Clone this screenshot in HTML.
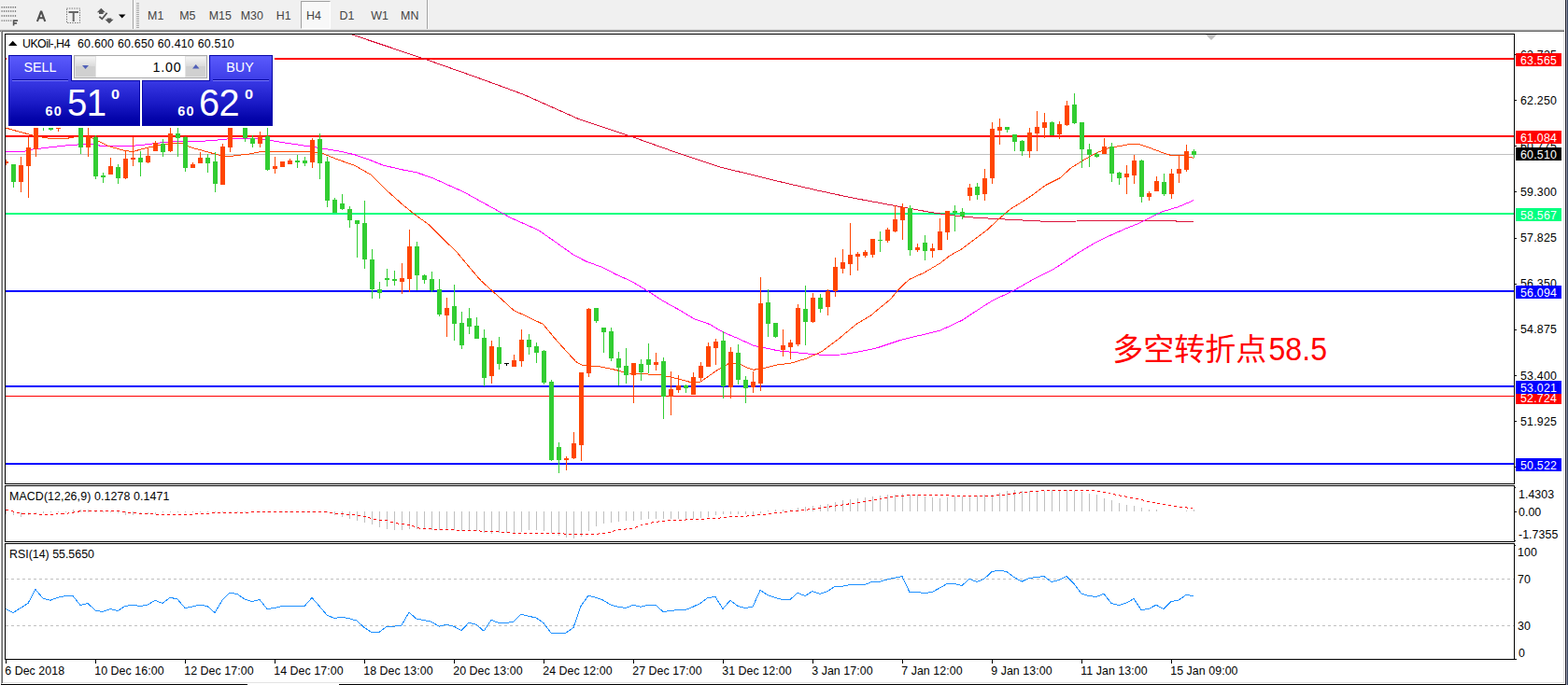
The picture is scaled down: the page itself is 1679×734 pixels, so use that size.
<!DOCTYPE html><html><head><meta charset="utf-8"><title>UKOil H4</title><style>
html,body{margin:0;padding:0;background:#fff;}
body{width:1679px;height:734px;overflow:hidden;position:relative;font-family:"Liberation Sans",sans-serif;}
.abs{position:absolute;}
.t{position:absolute;font-size:12.4px;line-height:14px;color:#000;white-space:pre;}
.tb{position:absolute;font-size:12.4px;line-height:14px;color:#444;white-space:pre;}
.lb{position:absolute;left:1623px;width:49px;height:14px;color:#fff;font-size:12.4px;line-height:14px;white-space:pre;letter-spacing:0.2px;}
.lb span{position:absolute;left:5px;top:0.5px;}
.ax{position:absolute;left:1628px;font-size:12.4px;line-height:14px;color:#000;white-space:pre;letter-spacing:0.2px;}
</style></head><body>
<div class="abs" style="left:0;top:0;width:1675px;height:31px;background:#f0f0f0"></div>
<div class="abs" style="left:0;top:31px;width:1675px;height:1px;background:#e3e3e3"></div>
<div class="abs" style="left:0;top:32px;width:1675px;height:1px;background:#a0a0a0"></div>
<div class="abs" style="left:0;top:33px;width:1675px;height:1px;background:#696969"></div>
<div class="abs" style="left:1px;top:33px;width:1px;height:700px;background:#a0a0a0"></div>
<div class="abs" style="left:2px;top:33px;width:1px;height:699px;background:#696969"></div>
<div class="abs" style="left:1674px;top:34px;width:1px;height:698px;background:#e3e3e3"></div>
<div class="abs" style="left:1675px;top:0;width:1px;height:734px;background:#fff"></div>
<div class="abs" style="left:1676px;top:0;width:1px;height:734px;background:#20202c"></div>
<div class="abs" style="left:1677px;top:0;width:1px;height:734px;background:#9a9aaa"></div>
<div class="abs" style="left:1678px;top:0;width:1px;height:734px;background:#3a4a64"></div>
<div class="abs" style="left:3px;top:731px;width:1672px;height:1px;background:#e3e3e3"></div>
<div class="abs" style="left:1px;top:733px;width:264px;height:1px;background:#000"></div>
<div class="abs" style="left:363px;top:733px;width:1313px;height:1px;background:#000"></div>
<div class="abs" style="left:142px;top:0;width:1px;height:31px;background:#a0a0a0"></div><div class="abs" style="left:143px;top:0;width:1px;height:31px;background:#fff"></div>
<div class="abs" style="left:457px;top:0;width:1px;height:31px;background:#a0a0a0"></div><div class="abs" style="left:458px;top:0;width:1px;height:31px;background:#fff"></div>
<div class="abs" style="left:146px;top:3px;width:3px;height:27px;background:repeating-linear-gradient(to bottom,#a8a8a8 0,#a8a8a8 1px,#f0f0f0 1px,#f0f0f0 2px)"></div>
<div class="abs" style="left:322px;top:1px;width:30px;height:28px;background:#f8f8f8;border-left:1px solid #a0a0a0;border-top:1px solid #a0a0a0;border-right:1px solid #fff;border-bottom:1px solid #fff;box-sizing:content-box"></div>
<div class="tb" style="left:158.1px;top:10px">M1</div>
<div class="tb" style="left:192.2px;top:10px">M5</div>
<div class="tb" style="left:223.8px;top:10px">M15</div>
<div class="tb" style="left:257.7px;top:10px">M30</div>
<div class="tb" style="left:295.8px;top:10px">H1</div>
<div class="tb" style="left:328.1px;top:10px">H4</div>
<div class="tb" style="left:363.6px;top:10px">D1</div>
<div class="tb" style="left:397.2px;top:10px">W1</div>
<div class="tb" style="left:429.1px;top:10px">MN</div>
<svg class="abs" style="left:0;top:0" width="142" height="31" viewBox="0 0 142 31">
<g stroke="#666" stroke-width="1.4" stroke-dasharray="1.2,1.2" fill="none">
<path d="M1.5 7.800H18M1.5 12H18M1.5 17H18M1.5 22.100H13"/></g>
<path d="M14.6 27.6V22.1H19.1M14.6 24.900H18.1" stroke="#555" stroke-width="1.6" fill="none"/>
<path d="M39.9 23L44.1 11.9L48.300 23M41.5 19.3H46.7" stroke="#505050" stroke-width="2.1" stroke-linejoin="bevel" fill="none"/>
<rect x="71.5" y="9" width="14" height="15.5" fill="none" stroke="#666" stroke-width="1" stroke-dasharray="1.2,1.4"/>
<path d="M73.5 13H84M78.7 13V23" stroke="#666" stroke-width="2" fill="none"/>
<path d="M103.800 13.200L108.3 8.800L112.800 13.200H110.6V14.900H106V13.200Z M112.400 20.800H114.7V19.400H119.3V20.800H121.600L117 25.200Z" fill="#555"/>
<path d="M106.3 17.800L109.3 20.300L114.600 13.800" stroke="#555" stroke-width="1.8" fill="none"/>
<path d="M127 15.5H134.5L130.7 19.5Z" fill="#000"/>
</svg>
<svg class="abs" style="left:0;top:0" width="1679" height="734" viewBox="0 0 1679 734"><g shape-rendering="crispEdges">
<rect x="6" y="165" width="1615" height="1" fill="#C0C0C0"/>
<rect x="6" y="62" width="1615" height="2" fill="#FF0000"/>
<rect x="6" y="145" width="1615" height="2" fill="#FF0000"/>
<rect x="6" y="228" width="1615" height="2" fill="#00FF7F"/>
<rect x="6" y="311" width="1615" height="2" fill="#0000FF"/>
<rect x="6" y="413" width="1615" height="2" fill="#0000FF"/>
<rect x="6" y="424" width="1615" height="1" fill="#FF0000"/>
<rect x="6" y="496" width="1615" height="2" fill="#0000FF"/>
</g>
<polyline points="376.7,37 453.3,62.7 510,82.7 560,101 620,127.7 673.3,145.3 726.7,164.3 770,178.7 826.7,192.7 860,200.5 876.7,204.3 910,211.5 960,220.8 996.7,227.5 1026.7,231.7 1045,233.3 1070,234.7 1091.7,235.8 1123.3,237.5 1153.3,237 1186.7,236.2 1258.3,236.2 1260,237.5 1278,237.5" fill="none" stroke="#DC143C" stroke-width="1" stroke-linejoin="round" shape-rendering="crispEdges"/>
<polyline points="6,163 25,162.5 33,160.3 50,158.3 66.7,156.3 83,155 100,154.7 108,156.3 125,156.7 141.7,156.3 158,154.7 175,152.5 191.7,151.3 216.7,151.3 233,150 250,148.3 265,148.3 280,148.8 296.7,151.7 330,156.7 346.7,159.2 363.3,162 380,165.8 396.7,171.7 410,177 430,181.7 446.7,185 463.3,190.8 480,198.3 496.7,205.8 513.3,215 530,224.2 546.7,233.3 560,239.2 576.7,246.7 593.3,258.3 613.3,272.5 626.7,279.7 643.3,285.8 660,294.2 676.7,301.7 693.3,311.7 710,322.5 726.7,331.7 743.3,341.7 760,347.5 766.7,351.5 775,356.3 791.7,363.3 806.7,370.3 820,373 833.3,375.8 850,377.5 866.7,379.2 883.3,380.5 900,380 916.7,377.5 933.3,374.2 940,372.5 965,364.2 1006.7,354.2 1030,343.3 1056.7,325.8 1064.2,321.3 1083.3,312.5 1106.7,299.2 1128.3,288.3 1140,280.8 1153.3,271.7 1170,261.7 1186.7,253.3 1203.3,245.8 1220,239.2 1236.7,230.8 1245,226.7 1261.7,221.7 1278,214.7" fill="none" stroke="#FF00FF" stroke-width="1" stroke-linejoin="round" shape-rendering="crispEdges"/>
<polyline points="6,137 20,141 38,145.8 53,148.3 72,148.3 84,146 92,146.5 100,148.3 116.7,156.7 133,161.3 141.7,162.5 158,158.3 175,154.7 183,153.7 195,153.7 203,157.5 216.7,161.3 233,165.8 240,167.5 250,167 266.7,165 280,162.5 331.7,162.5 346.7,165 360,170.3 380,177.5 396.7,187 413.3,203.3 430,218.3 443.3,229.2 458.3,240 473.3,255 488.3,269.2 505,289.2 515,300.8 526.7,311.3 540,323.3 550,332.5 563.3,338.7 581.7,347.5 593.3,361.7 606.7,376.7 616.7,387.5 623.3,391.3 640,392.5 656.7,395.8 673.3,400 690,400.8 706.7,401.7 716.7,403.7 738.3,409.2 750,409.2 766.7,397.5 780,389.7 790,389.2 798.3,393.3 806.7,396.3 816.7,394.7 833.3,390.8 846.7,389.2 863.3,384.2 880,376.7 896.7,364.2 916.7,347.5 933.3,337.5 940,331.7 953.3,320.8 961.7,310.8 973.3,299.5 990,292 1006.7,282 1016.7,274.2 1030,266.7 1043.3,256.7 1056.7,246.7 1068.3,235.8 1081.7,224.2 1093.3,217 1101.7,211.7 1120,198.3 1135,190.8 1146.7,180 1160,171.7 1173.3,164.2 1186.7,158.7 1200,156.3 1211.7,154.2 1220,154.7 1230,158 1243.3,163 1253.3,166.3 1266.7,166.3 1273.3,168.3 1278,169.2" fill="none" stroke="#FF4500" stroke-width="1" stroke-linejoin="round" shape-rendering="crispEdges"/>
<g shape-rendering="crispEdges">
<rect x="6" y="173" width="3" height="2" fill="#FF4500"/>
<rect x="6" y="171" width="1" height="6" fill="#FF4500"/>
<rect x="14" y="176" width="1" height="25" fill="#32CD32"/>
<rect x="12" y="176" width="5" height="19" fill="#32CD32"/>
<rect x="22" y="168" width="1" height="38" fill="#FF4500"/>
<rect x="20" y="177" width="5" height="18" fill="#FF4500"/>
<rect x="30" y="147" width="1" height="65" fill="#FF4500"/>
<rect x="28" y="158" width="5" height="20" fill="#FF4500"/>
<rect x="38" y="125" width="1" height="43" fill="#FF4500"/>
<rect x="36" y="125" width="5" height="35" fill="#FF4500"/>
<rect x="46" y="125" width="1" height="15" fill="#32CD32"/>
<rect x="44" y="125" width="5" height="9" fill="#32CD32"/>
<rect x="54" y="125" width="1" height="15" fill="#32CD32"/>
<rect x="52" y="125" width="5" height="14" fill="#32CD32"/>
<rect x="62" y="125" width="1" height="16" fill="#FF4500"/>
<rect x="60" y="125" width="5" height="13" fill="#FF4500"/>
<rect x="86" y="125" width="1" height="40" fill="#32CD32"/>
<rect x="84" y="125" width="5" height="33" fill="#32CD32"/>
<rect x="94" y="125" width="1" height="43" fill="#FF4500"/>
<rect x="92" y="146" width="5" height="12" fill="#FF4500"/>
<rect x="102" y="145" width="1" height="47" fill="#32CD32"/>
<rect x="100" y="147" width="5" height="42" fill="#32CD32"/>
<rect x="110" y="185" width="1" height="11" fill="#32CD32"/>
<rect x="108" y="188" width="5" height="2" fill="#32CD32"/>
<rect x="118" y="169" width="1" height="18" fill="#FF4500"/>
<rect x="116" y="178" width="5" height="9" fill="#FF4500"/>
<rect x="126" y="176" width="1" height="21" fill="#32CD32"/>
<rect x="124" y="179" width="5" height="12" fill="#32CD32"/>
<rect x="134" y="161" width="1" height="31" fill="#FF4500"/>
<rect x="132" y="170" width="5" height="21" fill="#FF4500"/>
<rect x="142" y="147" width="1" height="31" fill="#FF4500"/>
<rect x="140" y="169" width="5" height="2" fill="#FF4500"/>
<rect x="150" y="162" width="1" height="27" fill="#32CD32"/>
<rect x="148" y="169" width="5" height="5" fill="#32CD32"/>
<rect x="158" y="158" width="1" height="17" fill="#FF4500"/>
<rect x="156" y="167" width="5" height="7" fill="#FF4500"/>
<rect x="166" y="151" width="1" height="11" fill="#FF4500"/>
<rect x="164" y="153" width="5" height="9" fill="#FF4500"/>
<rect x="174" y="149" width="1" height="19" fill="#32CD32"/>
<rect x="172" y="154" width="5" height="9" fill="#32CD32"/>
<rect x="182" y="125" width="1" height="38" fill="#FF4500"/>
<rect x="180" y="143" width="5" height="19" fill="#FF4500"/>
<rect x="190" y="125" width="1" height="43" fill="#32CD32"/>
<rect x="188" y="143" width="5" height="5" fill="#32CD32"/>
<rect x="198" y="146" width="1" height="38" fill="#32CD32"/>
<rect x="196" y="147" width="5" height="33" fill="#32CD32"/>
<rect x="206" y="174" width="1" height="6" fill="#FF4500"/>
<rect x="204" y="176" width="5" height="4" fill="#FF4500"/>
<rect x="214" y="163" width="1" height="12" fill="#FF4500"/>
<rect x="212" y="169" width="5" height="6" fill="#FF4500"/>
<rect x="222" y="165" width="1" height="20" fill="#32CD32"/>
<rect x="220" y="169" width="5" height="6" fill="#32CD32"/>
<rect x="230" y="163" width="1" height="43" fill="#32CD32"/>
<rect x="228" y="173" width="5" height="24" fill="#32CD32"/>
<rect x="238" y="154" width="1" height="44" fill="#FF4500"/>
<rect x="236" y="157" width="5" height="41" fill="#FF4500"/>
<rect x="246" y="125" width="1" height="38" fill="#FF4500"/>
<rect x="244" y="125" width="5" height="33" fill="#FF4500"/>
<rect x="262" y="125" width="1" height="27" fill="#32CD32"/>
<rect x="260" y="125" width="5" height="23" fill="#32CD32"/>
<rect x="270" y="145" width="1" height="13" fill="#32CD32"/>
<rect x="268" y="148" width="5" height="6" fill="#32CD32"/>
<rect x="278" y="141" width="1" height="17" fill="#FF4500"/>
<rect x="276" y="146" width="5" height="8" fill="#FF4500"/>
<rect x="286" y="125" width="1" height="58" fill="#32CD32"/>
<rect x="284" y="146" width="5" height="36" fill="#32CD32"/>
<rect x="294" y="168" width="1" height="18" fill="#FF4500"/>
<rect x="292" y="178" width="5" height="3" fill="#FF4500"/>
<rect x="302" y="173" width="1" height="6" fill="#FF4500"/>
<rect x="300" y="173" width="5" height="6" fill="#FF4500"/>
<rect x="310" y="170" width="1" height="6" fill="#FF4500"/>
<rect x="308" y="172" width="5" height="4" fill="#FF4500"/>
<rect x="318" y="166" width="1" height="14" fill="#32CD32"/>
<rect x="316" y="172" width="5" height="2" fill="#32CD32"/>
<rect x="326" y="168" width="1" height="10" fill="#32CD32"/>
<rect x="324" y="172" width="5" height="3" fill="#32CD32"/>
<rect x="334" y="148" width="1" height="32" fill="#FF4500"/>
<rect x="332" y="150" width="5" height="24" fill="#FF4500"/>
<rect x="342" y="143" width="1" height="49" fill="#32CD32"/>
<rect x="340" y="149" width="5" height="26" fill="#32CD32"/>
<rect x="350" y="168" width="1" height="54" fill="#32CD32"/>
<rect x="348" y="173" width="5" height="42" fill="#32CD32"/>
<rect x="358" y="212" width="1" height="16" fill="#32CD32"/>
<rect x="356" y="214" width="5" height="14" fill="#32CD32"/>
<rect x="366" y="208" width="1" height="17" fill="#32CD32"/>
<rect x="364" y="218" width="5" height="6" fill="#32CD32"/>
<rect x="374" y="221" width="1" height="23" fill="#32CD32"/>
<rect x="372" y="224" width="5" height="12" fill="#32CD32"/>
<rect x="382" y="236" width="1" height="40" fill="#32CD32"/>
<rect x="380" y="236" width="5" height="4" fill="#32CD32"/>
<rect x="390" y="215" width="1" height="73" fill="#32CD32"/>
<rect x="388" y="239" width="5" height="39" fill="#32CD32"/>
<rect x="398" y="267" width="1" height="53" fill="#32CD32"/>
<rect x="396" y="278" width="5" height="32" fill="#32CD32"/>
<rect x="406" y="302" width="1" height="18" fill="#32CD32"/>
<rect x="404" y="310" width="5" height="4" fill="#32CD32"/>
<rect x="414" y="288" width="1" height="19" fill="#32CD32"/>
<rect x="412" y="298" width="5" height="2" fill="#32CD32"/>
<rect x="422" y="290" width="1" height="16" fill="#32CD32"/>
<rect x="420" y="299" width="5" height="2" fill="#32CD32"/>
<rect x="430" y="282" width="1" height="33" fill="#FF4500"/>
<rect x="428" y="298" width="5" height="4" fill="#FF4500"/>
<rect x="438" y="246" width="1" height="67" fill="#FF4500"/>
<rect x="436" y="264" width="5" height="35" fill="#FF4500"/>
<rect x="446" y="259" width="1" height="52" fill="#32CD32"/>
<rect x="444" y="264" width="5" height="31" fill="#32CD32"/>
<rect x="454" y="294" width="1" height="10" fill="#32CD32"/>
<rect x="452" y="295" width="5" height="5" fill="#32CD32"/>
<rect x="462" y="291" width="1" height="22" fill="#32CD32"/>
<rect x="460" y="299" width="5" height="12" fill="#32CD32"/>
<rect x="470" y="299" width="1" height="40" fill="#32CD32"/>
<rect x="468" y="310" width="5" height="27" fill="#32CD32"/>
<rect x="478" y="319" width="1" height="42" fill="#FF4500"/>
<rect x="476" y="330" width="5" height="8" fill="#FF4500"/>
<rect x="486" y="305" width="1" height="60" fill="#32CD32"/>
<rect x="484" y="328" width="5" height="19" fill="#32CD32"/>
<rect x="494" y="334" width="1" height="40" fill="#32CD32"/>
<rect x="492" y="346" width="5" height="24" fill="#32CD32"/>
<rect x="502" y="330" width="1" height="28" fill="#32CD32"/>
<rect x="500" y="341" width="5" height="9" fill="#32CD32"/>
<rect x="510" y="340" width="1" height="23" fill="#32CD32"/>
<rect x="508" y="349" width="5" height="14" fill="#32CD32"/>
<rect x="518" y="353" width="1" height="61" fill="#32CD32"/>
<rect x="516" y="362" width="5" height="43" fill="#32CD32"/>
<rect x="526" y="365" width="1" height="46" fill="#FF4500"/>
<rect x="524" y="371" width="5" height="32" fill="#FF4500"/>
<rect x="534" y="361" width="1" height="35" fill="#32CD32"/>
<rect x="532" y="372" width="5" height="18" fill="#32CD32"/>
<rect x="542" y="389" width="1" height="3" fill="#000"/>
<rect x="540" y="389" width="5" height="1" fill="#000"/>
<rect x="550" y="380" width="1" height="13" fill="#FF4500"/>
<rect x="548" y="386" width="5" height="7" fill="#FF4500"/>
<rect x="558" y="353" width="1" height="40" fill="#FF4500"/>
<rect x="556" y="364" width="5" height="23" fill="#FF4500"/>
<rect x="566" y="358" width="1" height="22" fill="#32CD32"/>
<rect x="564" y="364" width="5" height="8" fill="#32CD32"/>
<rect x="574" y="367" width="1" height="22" fill="#32CD32"/>
<rect x="572" y="371" width="5" height="7" fill="#32CD32"/>
<rect x="582" y="375" width="1" height="37" fill="#32CD32"/>
<rect x="580" y="376" width="5" height="34" fill="#32CD32"/>
<rect x="590" y="407" width="1" height="87" fill="#32CD32"/>
<rect x="588" y="409" width="5" height="84" fill="#32CD32"/>
<rect x="598" y="474" width="1" height="33" fill="#32CD32"/>
<rect x="596" y="479" width="5" height="14" fill="#32CD32"/>
<rect x="606" y="489" width="1" height="15" fill="#FF4500"/>
<rect x="604" y="491" width="5" height="2" fill="#FF4500"/>
<rect x="614" y="463" width="1" height="29" fill="#FF4500"/>
<rect x="612" y="475" width="5" height="16" fill="#FF4500"/>
<rect x="622" y="399" width="1" height="95" fill="#FF4500"/>
<rect x="620" y="399" width="5" height="78" fill="#FF4500"/>
<rect x="630" y="330" width="1" height="74" fill="#FF4500"/>
<rect x="628" y="331" width="5" height="69" fill="#FF4500"/>
<rect x="638" y="330" width="1" height="16" fill="#32CD32"/>
<rect x="636" y="330" width="5" height="14" fill="#32CD32"/>
<rect x="646" y="351" width="1" height="27" fill="#32CD32"/>
<rect x="644" y="351" width="5" height="5" fill="#32CD32"/>
<rect x="654" y="351" width="1" height="36" fill="#32CD32"/>
<rect x="652" y="355" width="5" height="29" fill="#32CD32"/>
<rect x="662" y="377" width="1" height="36" fill="#32CD32"/>
<rect x="660" y="384" width="5" height="10" fill="#32CD32"/>
<rect x="670" y="373" width="1" height="38" fill="#32CD32"/>
<rect x="668" y="392" width="5" height="10" fill="#32CD32"/>
<rect x="678" y="389" width="1" height="43" fill="#FF4500"/>
<rect x="676" y="389" width="5" height="13" fill="#FF4500"/>
<rect x="686" y="385" width="1" height="23" fill="#32CD32"/>
<rect x="684" y="390" width="5" height="9" fill="#32CD32"/>
<rect x="694" y="368" width="1" height="32" fill="#32CD32"/>
<rect x="692" y="385" width="5" height="6" fill="#32CD32"/>
<rect x="702" y="378" width="1" height="19" fill="#FF4500"/>
<rect x="700" y="388" width="5" height="3" fill="#FF4500"/>
<rect x="710" y="383" width="1" height="66" fill="#32CD32"/>
<rect x="708" y="387" width="5" height="38" fill="#32CD32"/>
<rect x="718" y="398" width="1" height="47" fill="#FF4500"/>
<rect x="716" y="417" width="5" height="8" fill="#FF4500"/>
<rect x="726" y="402" width="1" height="19" fill="#FF4500"/>
<rect x="724" y="413" width="5" height="5" fill="#FF4500"/>
<rect x="734" y="412" width="1" height="9" fill="#32CD32"/>
<rect x="732" y="413" width="5" height="3" fill="#32CD32"/>
<rect x="742" y="399" width="1" height="24" fill="#FF4500"/>
<rect x="740" y="404" width="5" height="19" fill="#FF4500"/>
<rect x="750" y="388" width="1" height="20" fill="#FF4500"/>
<rect x="748" y="392" width="5" height="13" fill="#FF4500"/>
<rect x="758" y="367" width="1" height="26" fill="#FF4500"/>
<rect x="756" y="371" width="5" height="22" fill="#FF4500"/>
<rect x="766" y="363" width="1" height="28" fill="#FF4500"/>
<rect x="764" y="366" width="5" height="7" fill="#FF4500"/>
<rect x="774" y="355" width="1" height="72" fill="#32CD32"/>
<rect x="772" y="365" width="5" height="49" fill="#32CD32"/>
<rect x="782" y="372" width="1" height="55" fill="#FF4500"/>
<rect x="780" y="377" width="5" height="38" fill="#FF4500"/>
<rect x="790" y="369" width="1" height="43" fill="#32CD32"/>
<rect x="788" y="378" width="5" height="29" fill="#32CD32"/>
<rect x="798" y="403" width="1" height="29" fill="#32CD32"/>
<rect x="796" y="407" width="5" height="9" fill="#32CD32"/>
<rect x="806" y="398" width="1" height="23" fill="#FF4500"/>
<rect x="804" y="409" width="5" height="6" fill="#FF4500"/>
<rect x="814" y="297" width="1" height="122" fill="#FF4500"/>
<rect x="812" y="325" width="5" height="86" fill="#FF4500"/>
<rect x="822" y="310" width="1" height="51" fill="#32CD32"/>
<rect x="820" y="324" width="5" height="23" fill="#32CD32"/>
<rect x="830" y="346" width="1" height="16" fill="#32CD32"/>
<rect x="828" y="346" width="5" height="15" fill="#32CD32"/>
<rect x="838" y="353" width="1" height="29" fill="#FF4500"/>
<rect x="836" y="370" width="5" height="5" fill="#FF4500"/>
<rect x="846" y="364" width="1" height="21" fill="#FF4500"/>
<rect x="844" y="367" width="5" height="5" fill="#FF4500"/>
<rect x="854" y="326" width="1" height="45" fill="#FF4500"/>
<rect x="852" y="330" width="5" height="39" fill="#FF4500"/>
<rect x="862" y="306" width="1" height="64" fill="#32CD32"/>
<rect x="860" y="331" width="5" height="14" fill="#32CD32"/>
<rect x="870" y="314" width="1" height="32" fill="#FF4500"/>
<rect x="868" y="319" width="5" height="26" fill="#FF4500"/>
<rect x="878" y="315" width="1" height="20" fill="#32CD32"/>
<rect x="876" y="319" width="5" height="12" fill="#32CD32"/>
<rect x="886" y="310" width="1" height="28" fill="#FF4500"/>
<rect x="884" y="312" width="5" height="17" fill="#FF4500"/>
<rect x="894" y="276" width="1" height="42" fill="#FF4500"/>
<rect x="892" y="286" width="5" height="26" fill="#FF4500"/>
<rect x="902" y="267" width="1" height="26" fill="#FF4500"/>
<rect x="900" y="281" width="5" height="7" fill="#FF4500"/>
<rect x="910" y="239" width="1" height="56" fill="#FF4500"/>
<rect x="908" y="273" width="5" height="10" fill="#FF4500"/>
<rect x="918" y="270" width="1" height="20" fill="#FF4500"/>
<rect x="916" y="272" width="5" height="3" fill="#FF4500"/>
<rect x="926" y="268" width="1" height="8" fill="#FF4500"/>
<rect x="924" y="270" width="5" height="4" fill="#FF4500"/>
<rect x="934" y="256" width="1" height="20" fill="#FF4500"/>
<rect x="932" y="256" width="5" height="17" fill="#FF4500"/>
<rect x="942" y="248" width="1" height="22" fill="#32CD32"/>
<rect x="940" y="257" width="5" height="1" fill="#32CD32"/>
<rect x="950" y="244" width="1" height="16" fill="#FF4500"/>
<rect x="948" y="246" width="5" height="12" fill="#FF4500"/>
<rect x="958" y="220" width="1" height="29" fill="#FF4500"/>
<rect x="956" y="235" width="5" height="13" fill="#FF4500"/>
<rect x="966" y="218" width="1" height="39" fill="#FF4500"/>
<rect x="964" y="222" width="5" height="14" fill="#FF4500"/>
<rect x="974" y="220" width="1" height="54" fill="#32CD32"/>
<rect x="972" y="223" width="5" height="45" fill="#32CD32"/>
<rect x="982" y="261" width="1" height="9" fill="#FF4500"/>
<rect x="980" y="265" width="5" height="3" fill="#FF4500"/>
<rect x="990" y="252" width="1" height="27" fill="#32CD32"/>
<rect x="988" y="260" width="5" height="9" fill="#32CD32"/>
<rect x="998" y="261" width="1" height="15" fill="#FF4500"/>
<rect x="996" y="266" width="5" height="3" fill="#FF4500"/>
<rect x="1006" y="234" width="1" height="34" fill="#FF4500"/>
<rect x="1004" y="248" width="5" height="20" fill="#FF4500"/>
<rect x="1014" y="226" width="1" height="31" fill="#FF4500"/>
<rect x="1012" y="226" width="5" height="23" fill="#FF4500"/>
<rect x="1022" y="220" width="1" height="28" fill="#32CD32"/>
<rect x="1020" y="226" width="5" height="2" fill="#32CD32"/>
<rect x="1030" y="223" width="1" height="12" fill="#32CD32"/>
<rect x="1028" y="227" width="5" height="5" fill="#32CD32"/>
<rect x="1038" y="197" width="1" height="18" fill="#FF4500"/>
<rect x="1036" y="201" width="5" height="9" fill="#FF4500"/>
<rect x="1046" y="196" width="1" height="18" fill="#32CD32"/>
<rect x="1044" y="200" width="5" height="9" fill="#32CD32"/>
<rect x="1054" y="181" width="1" height="34" fill="#FF4500"/>
<rect x="1052" y="191" width="5" height="17" fill="#FF4500"/>
<rect x="1062" y="131" width="1" height="66" fill="#FF4500"/>
<rect x="1060" y="138" width="5" height="53" fill="#FF4500"/>
<rect x="1070" y="127" width="1" height="28" fill="#FF4500"/>
<rect x="1068" y="136" width="5" height="4" fill="#FF4500"/>
<rect x="1078" y="136" width="1" height="6" fill="#32CD32"/>
<rect x="1076" y="136" width="5" height="3" fill="#32CD32"/>
<rect x="1086" y="144" width="1" height="18" fill="#32CD32"/>
<rect x="1084" y="144" width="5" height="8" fill="#32CD32"/>
<rect x="1094" y="150" width="1" height="17" fill="#32CD32"/>
<rect x="1092" y="151" width="5" height="11" fill="#32CD32"/>
<rect x="1102" y="137" width="1" height="32" fill="#FF4500"/>
<rect x="1100" y="142" width="5" height="20" fill="#FF4500"/>
<rect x="1110" y="119" width="1" height="43" fill="#FF4500"/>
<rect x="1108" y="136" width="5" height="7" fill="#FF4500"/>
<rect x="1118" y="121" width="1" height="27" fill="#FF4500"/>
<rect x="1116" y="131" width="5" height="6" fill="#FF4500"/>
<rect x="1126" y="130" width="1" height="15" fill="#32CD32"/>
<rect x="1124" y="131" width="5" height="14" fill="#32CD32"/>
<rect x="1134" y="130" width="1" height="19" fill="#FF4500"/>
<rect x="1132" y="133" width="5" height="11" fill="#FF4500"/>
<rect x="1142" y="108" width="1" height="27" fill="#FF4500"/>
<rect x="1140" y="113" width="5" height="21" fill="#FF4500"/>
<rect x="1150" y="100" width="1" height="33" fill="#32CD32"/>
<rect x="1148" y="112" width="5" height="20" fill="#32CD32"/>
<rect x="1158" y="131" width="1" height="49" fill="#32CD32"/>
<rect x="1156" y="131" width="5" height="29" fill="#32CD32"/>
<rect x="1166" y="154" width="1" height="25" fill="#32CD32"/>
<rect x="1164" y="160" width="5" height="6" fill="#32CD32"/>
<rect x="1174" y="163" width="1" height="6" fill="#32CD32"/>
<rect x="1172" y="165" width="5" height="3" fill="#32CD32"/>
<rect x="1182" y="148" width="1" height="17" fill="#FF4500"/>
<rect x="1180" y="157" width="5" height="8" fill="#FF4500"/>
<rect x="1190" y="153" width="1" height="42" fill="#32CD32"/>
<rect x="1188" y="157" width="5" height="29" fill="#32CD32"/>
<rect x="1198" y="184" width="1" height="14" fill="#32CD32"/>
<rect x="1196" y="185" width="5" height="6" fill="#32CD32"/>
<rect x="1206" y="177" width="1" height="31" fill="#FF4500"/>
<rect x="1204" y="186" width="5" height="4" fill="#FF4500"/>
<rect x="1214" y="166" width="1" height="31" fill="#FF4500"/>
<rect x="1212" y="172" width="5" height="16" fill="#FF4500"/>
<rect x="1222" y="171" width="1" height="46" fill="#32CD32"/>
<rect x="1220" y="172" width="5" height="39" fill="#32CD32"/>
<rect x="1230" y="205" width="1" height="10" fill="#FF4500"/>
<rect x="1228" y="207" width="5" height="4" fill="#FF4500"/>
<rect x="1238" y="189" width="1" height="16" fill="#FF4500"/>
<rect x="1236" y="194" width="5" height="11" fill="#FF4500"/>
<rect x="1246" y="186" width="1" height="24" fill="#32CD32"/>
<rect x="1244" y="195" width="5" height="13" fill="#32CD32"/>
<rect x="1254" y="181" width="1" height="32" fill="#FF4500"/>
<rect x="1252" y="186" width="5" height="22" fill="#FF4500"/>
<rect x="1262" y="167" width="1" height="29" fill="#FF4500"/>
<rect x="1260" y="181" width="5" height="5" fill="#FF4500"/>
<rect x="1270" y="155" width="1" height="29" fill="#FF4500"/>
<rect x="1268" y="162" width="5" height="20" fill="#FF4500"/>
<rect x="1278" y="160" width="1" height="9" fill="#32CD32"/>
<rect x="1276" y="162" width="5" height="4" fill="#32CD32"/>
<polygon points="1291,37 1303,37 1297,43" fill="#C0C0C0" shape-rendering="auto"/>
<rect x="6" y="546" width="1" height="5" fill="#C0C0C0"/>
<rect x="14" y="548" width="1" height="4" fill="#C0C0C0"/>
<rect x="22" y="549" width="1" height="5" fill="#C0C0C0"/>
<rect x="30" y="549" width="1" height="3" fill="#C0C0C0"/>
<rect x="38" y="549" width="1" height="2" fill="#C0C0C0"/>
<rect x="46" y="548" width="1" height="2" fill="#C0C0C0"/>
<rect x="54" y="548" width="1" height="1" fill="#C0C0C0"/>
<rect x="62" y="548" width="1" height="1" fill="#C0C0C0"/>
<rect x="70" y="548" width="1" height="1" fill="#C0C0C0"/>
<rect x="78" y="546" width="1" height="3" fill="#C0C0C0"/>
<rect x="86" y="546" width="1" height="3" fill="#C0C0C0"/>
<rect x="94" y="546" width="1" height="3" fill="#C0C0C0"/>
<rect x="102" y="547" width="1" height="2" fill="#C0C0C0"/>
<rect x="110" y="548" width="1" height="1" fill="#C0C0C0"/>
<rect x="118" y="548" width="1" height="1" fill="#C0C0C0"/>
<rect x="126" y="548" width="1" height="2" fill="#C0C0C0"/>
<rect x="134" y="548" width="1" height="4" fill="#C0C0C0"/>
<rect x="142" y="548" width="1" height="4" fill="#C0C0C0"/>
<rect x="150" y="549" width="1" height="2" fill="#C0C0C0"/>
<rect x="158" y="549" width="1" height="2" fill="#C0C0C0"/>
<rect x="166" y="549" width="1" height="2" fill="#C0C0C0"/>
<rect x="174" y="548" width="1" height="1" fill="#C0C0C0"/>
<rect x="182" y="548" width="1" height="1" fill="#C0C0C0"/>
<rect x="190" y="548" width="1" height="1" fill="#C0C0C0"/>
<rect x="198" y="548" width="1" height="1" fill="#C0C0C0"/>
<rect x="206" y="548" width="1" height="1" fill="#C0C0C0"/>
<rect x="214" y="548" width="1" height="1" fill="#C0C0C0"/>
<rect x="222" y="548" width="1" height="1" fill="#C0C0C0"/>
<rect x="230" y="548" width="1" height="1" fill="#C0C0C0"/>
<rect x="238" y="548" width="1" height="1" fill="#C0C0C0"/>
<rect x="246" y="548" width="1" height="1" fill="#C0C0C0"/>
<rect x="254" y="548" width="1" height="1" fill="#C0C0C0"/>
<rect x="262" y="548" width="1" height="1" fill="#C0C0C0"/>
<rect x="270" y="548" width="1" height="1" fill="#C0C0C0"/>
<rect x="278" y="548" width="1" height="1" fill="#C0C0C0"/>
<rect x="286" y="548" width="1" height="1" fill="#C0C0C0"/>
<rect x="294" y="548" width="1" height="1" fill="#C0C0C0"/>
<rect x="302" y="548" width="1" height="1" fill="#C0C0C0"/>
<rect x="310" y="548" width="1" height="1" fill="#C0C0C0"/>
<rect x="318" y="548" width="1" height="1" fill="#C0C0C0"/>
<rect x="326" y="548" width="1" height="1" fill="#C0C0C0"/>
<rect x="334" y="548" width="1" height="1" fill="#C0C0C0"/>
<rect x="342" y="548" width="1" height="1" fill="#C0C0C0"/>
<rect x="350" y="548" width="1" height="1" fill="#C0C0C0"/>
<rect x="358" y="548" width="1" height="4" fill="#C0C0C0"/>
<rect x="366" y="548" width="1" height="6" fill="#C0C0C0"/>
<rect x="374" y="548" width="1" height="8" fill="#C0C0C0"/>
<rect x="382" y="548" width="1" height="10" fill="#C0C0C0"/>
<rect x="390" y="548" width="1" height="12" fill="#C0C0C0"/>
<rect x="398" y="548" width="1" height="14" fill="#C0C0C0"/>
<rect x="406" y="548" width="1" height="17" fill="#C0C0C0"/>
<rect x="414" y="548" width="1" height="19" fill="#C0C0C0"/>
<rect x="422" y="548" width="1" height="20" fill="#C0C0C0"/>
<rect x="430" y="548" width="1" height="20" fill="#C0C0C0"/>
<rect x="438" y="548" width="1" height="19" fill="#C0C0C0"/>
<rect x="446" y="548" width="1" height="19" fill="#C0C0C0"/>
<rect x="454" y="548" width="1" height="19" fill="#C0C0C0"/>
<rect x="462" y="548" width="1" height="20" fill="#C0C0C0"/>
<rect x="470" y="548" width="1" height="20" fill="#C0C0C0"/>
<rect x="478" y="548" width="1" height="20" fill="#C0C0C0"/>
<rect x="486" y="548" width="1" height="20" fill="#C0C0C0"/>
<rect x="494" y="548" width="1" height="21" fill="#C0C0C0"/>
<rect x="502" y="548" width="1" height="21" fill="#C0C0C0"/>
<rect x="510" y="548" width="1" height="21" fill="#C0C0C0"/>
<rect x="518" y="548" width="1" height="23" fill="#C0C0C0"/>
<rect x="526" y="548" width="1" height="24" fill="#C0C0C0"/>
<rect x="534" y="548" width="1" height="23" fill="#C0C0C0"/>
<rect x="542" y="548" width="1" height="23" fill="#C0C0C0"/>
<rect x="550" y="548" width="1" height="23" fill="#C0C0C0"/>
<rect x="558" y="548" width="1" height="22" fill="#C0C0C0"/>
<rect x="566" y="548" width="1" height="20" fill="#C0C0C0"/>
<rect x="574" y="548" width="1" height="20" fill="#C0C0C0"/>
<rect x="582" y="548" width="1" height="21" fill="#C0C0C0"/>
<rect x="590" y="548" width="1" height="23" fill="#C0C0C0"/>
<rect x="598" y="548" width="1" height="26" fill="#C0C0C0"/>
<rect x="606" y="548" width="1" height="28" fill="#C0C0C0"/>
<rect x="614" y="548" width="1" height="29" fill="#C0C0C0"/>
<rect x="622" y="548" width="1" height="27" fill="#C0C0C0"/>
<rect x="630" y="548" width="1" height="21" fill="#C0C0C0"/>
<rect x="638" y="548" width="1" height="16" fill="#C0C0C0"/>
<rect x="646" y="548" width="1" height="13" fill="#C0C0C0"/>
<rect x="654" y="548" width="1" height="12" fill="#C0C0C0"/>
<rect x="662" y="548" width="1" height="11" fill="#C0C0C0"/>
<rect x="670" y="548" width="1" height="10" fill="#C0C0C0"/>
<rect x="678" y="548" width="1" height="10" fill="#C0C0C0"/>
<rect x="686" y="548" width="1" height="9" fill="#C0C0C0"/>
<rect x="694" y="548" width="1" height="8" fill="#C0C0C0"/>
<rect x="702" y="548" width="1" height="8" fill="#C0C0C0"/>
<rect x="710" y="548" width="1" height="8" fill="#C0C0C0"/>
<rect x="718" y="548" width="1" height="8" fill="#C0C0C0"/>
<rect x="726" y="548" width="1" height="8" fill="#C0C0C0"/>
<rect x="734" y="548" width="1" height="8" fill="#C0C0C0"/>
<rect x="742" y="548" width="1" height="8" fill="#C0C0C0"/>
<rect x="750" y="548" width="1" height="7" fill="#C0C0C0"/>
<rect x="758" y="548" width="1" height="6" fill="#C0C0C0"/>
<rect x="766" y="548" width="1" height="4" fill="#C0C0C0"/>
<rect x="774" y="548" width="1" height="3" fill="#C0C0C0"/>
<rect x="782" y="548" width="1" height="3" fill="#C0C0C0"/>
<rect x="790" y="548" width="1" height="3" fill="#C0C0C0"/>
<rect x="798" y="548" width="1" height="3" fill="#C0C0C0"/>
<rect x="806" y="548" width="1" height="4" fill="#C0C0C0"/>
<rect x="814" y="548" width="1" height="2" fill="#C0C0C0"/>
<rect x="822" y="547" width="1" height="1" fill="#C0C0C0"/>
<rect x="830" y="546" width="1" height="2" fill="#C0C0C0"/>
<rect x="838" y="546" width="1" height="2" fill="#C0C0C0"/>
<rect x="846" y="546" width="1" height="2" fill="#C0C0C0"/>
<rect x="854" y="544" width="1" height="4" fill="#C0C0C0"/>
<rect x="862" y="543" width="1" height="5" fill="#C0C0C0"/>
<rect x="870" y="542" width="1" height="6" fill="#C0C0C0"/>
<rect x="878" y="541" width="1" height="7" fill="#C0C0C0"/>
<rect x="886" y="540" width="1" height="8" fill="#C0C0C0"/>
<rect x="894" y="538" width="1" height="10" fill="#C0C0C0"/>
<rect x="902" y="536" width="1" height="12" fill="#C0C0C0"/>
<rect x="910" y="535" width="1" height="13" fill="#C0C0C0"/>
<rect x="918" y="534" width="1" height="14" fill="#C0C0C0"/>
<rect x="926" y="533" width="1" height="15" fill="#C0C0C0"/>
<rect x="934" y="532" width="1" height="16" fill="#C0C0C0"/>
<rect x="942" y="531" width="1" height="17" fill="#C0C0C0"/>
<rect x="950" y="530" width="1" height="18" fill="#C0C0C0"/>
<rect x="958" y="530" width="1" height="18" fill="#C0C0C0"/>
<rect x="966" y="529" width="1" height="19" fill="#C0C0C0"/>
<rect x="974" y="530" width="1" height="18" fill="#C0C0C0"/>
<rect x="982" y="530" width="1" height="18" fill="#C0C0C0"/>
<rect x="990" y="532" width="1" height="16" fill="#C0C0C0"/>
<rect x="998" y="533" width="1" height="15" fill="#C0C0C0"/>
<rect x="1006" y="534" width="1" height="14" fill="#C0C0C0"/>
<rect x="1014" y="533" width="1" height="15" fill="#C0C0C0"/>
<rect x="1022" y="532" width="1" height="16" fill="#C0C0C0"/>
<rect x="1030" y="532" width="1" height="16" fill="#C0C0C0"/>
<rect x="1038" y="532" width="1" height="16" fill="#C0C0C0"/>
<rect x="1046" y="531" width="1" height="17" fill="#C0C0C0"/>
<rect x="1054" y="530" width="1" height="18" fill="#C0C0C0"/>
<rect x="1062" y="530" width="1" height="18" fill="#C0C0C0"/>
<rect x="1070" y="528" width="1" height="20" fill="#C0C0C0"/>
<rect x="1078" y="526" width="1" height="22" fill="#C0C0C0"/>
<rect x="1086" y="525" width="1" height="23" fill="#C0C0C0"/>
<rect x="1094" y="526" width="1" height="22" fill="#C0C0C0"/>
<rect x="1102" y="526" width="1" height="22" fill="#C0C0C0"/>
<rect x="1110" y="526" width="1" height="22" fill="#C0C0C0"/>
<rect x="1118" y="526" width="1" height="22" fill="#C0C0C0"/>
<rect x="1126" y="525" width="1" height="23" fill="#C0C0C0"/>
<rect x="1134" y="525" width="1" height="23" fill="#C0C0C0"/>
<rect x="1142" y="525" width="1" height="23" fill="#C0C0C0"/>
<rect x="1150" y="526" width="1" height="22" fill="#C0C0C0"/>
<rect x="1158" y="527" width="1" height="21" fill="#C0C0C0"/>
<rect x="1166" y="529" width="1" height="19" fill="#C0C0C0"/>
<rect x="1174" y="530" width="1" height="18" fill="#C0C0C0"/>
<rect x="1182" y="534" width="1" height="14" fill="#C0C0C0"/>
<rect x="1190" y="536" width="1" height="12" fill="#C0C0C0"/>
<rect x="1198" y="539" width="1" height="9" fill="#C0C0C0"/>
<rect x="1206" y="541" width="1" height="7" fill="#C0C0C0"/>
<rect x="1214" y="542" width="1" height="6" fill="#C0C0C0"/>
<rect x="1222" y="544" width="1" height="4" fill="#C0C0C0"/>
<rect x="1230" y="546" width="1" height="2" fill="#C0C0C0"/>
<rect x="1238" y="546" width="1" height="2" fill="#C0C0C0"/>
<rect x="1270" y="547" width="1" height="1" fill="#C0C0C0"/>
<rect x="1278" y="546" width="1" height="2" fill="#C0C0C0"/>
</g>
<polyline points="6,546.3 25,550.5 50,551.3 70,550.5 87.5,547.5 125,547 140,549.5 170,551.3 200,551.3 225,550 275,548.8 350,548.8 362.5,550.5 387.5,552.5 400,556.3 415,558 422.5,560.5 440,563 450,566.3 475,567.5 510,568.8 545,570.5 550,571.8 600,571.8 615,572.5 635,572.5 650,571.3 660,568 677.5,566.3 687.5,562.5 700,559.5 715,558 737.5,556.8 767.5,555.5 775,554.3 800,553 825,550.5 850,547.5 875,545 900,541.3 925,537.5 942.5,535 955,532.5 970,530.8 1015,530.8 1025,531.8 1055,531.8 1075,530.5 1092.5,528 1110,526.3 1125,525.5 1168,525.5 1180,527 1196,530.4 1205,532 1217,534.3 1230,537.5 1240.7,539.4 1250,541.3 1264.5,543.2 1276.5,544.7" fill="none" stroke="#FF0000" stroke-width="1" stroke-linejoin="round" stroke-dasharray="3,3" shape-rendering="crispEdges"/>
<g shape-rendering="crispEdges">
<line x1="6" y1="620.5" x2="1621" y2="620.5" stroke="#C0C0C0" stroke-width="1" stroke-dasharray="3,3"/>
<line x1="6" y1="670.5" x2="1621" y2="670.5" stroke="#C0C0C0" stroke-width="1" stroke-dasharray="3,3"/>
</g>
<polyline points="6,652.5 14,656.5 22,651.5 30,646.5 38,631.5 46,641.2 54,643.2 62,640.2 70,638.5 78,638.5 86,648.5 94,646.5 102,654 110,655.5 118,652.5 126,654.5 134,649.5 142,648.2 150,649.5 158,648.2 166,643.2 174,646.5 182,640.2 190,642 198,651.5 206,650 214,648.2 222,649.5 230,656.5 238,643.2 246,635.2 254,636.5 262,642 270,644.5 278,642.5 286,652.5 294,651.5 302,649.5 310,649.5 318,649.5 326,649.5 334,640.5 342,649.5 350,659 358,662.5 366,661.2 374,662.8 382,665 390,672.5 398,677.5 406,677.5 414,671.2 422,671.2 430,670 438,656.2 446,663.2 454,664.5 462,666.2 470,671.2 478,669.2 486,671.2 494,675.5 502,667.2 510,669.2 518,676.2 526,664.2 534,667.5 542,667.5 550,666.2 558,658.2 566,660.2 574,662 582,667.5 590,678.2 598,678.2 606,678.2 614,672.5 622,649.5 630,638.2 638,640.2 646,643.2 654,648.2 662,650.2 670,651.5 678,648.2 686,650.2 694,648.2 702,648.2 710,655.5 718,654.5 726,653.5 734,653.5 742,650.2 750,646.5 758,640.5 766,639.5 774,652.5 782,643.2 790,649.5 798,651.5 806,650.2 814,632.5 822,637.5 830,640.5 838,642.5 846,642.5 854,635.2 862,638.5 870,633.5 878,636.5 886,633.5 894,628.5 902,628.2 910,626.5 918,626.5 926,626.5 934,623.2 942,623.2 950,621 958,619.2 966,617.5 974,634.5 982,634.5 990,635.5 998,634.5 1006,630.2 1014,625.5 1022,625.5 1030,627.5 1038,620.2 1046,623.5 1054,620.2 1062,612.5 1070,611.2 1078,612.5 1086,618.5 1094,623.2 1102,619.5 1110,618.5 1118,617.5 1126,623.5 1134,621.5 1142,617.5 1150,625.5 1158,636.2 1166,638.5 1174,639.5 1182,636.2 1190,646.5 1198,648.5 1206,646.2 1214,641.5 1222,653.5 1230,652.5 1238,648.2 1246,652.5 1254,644.5 1262,643.2 1270,637.5 1278,638.5" fill="none" stroke="#1E90FF" stroke-width="1" stroke-linejoin="round" shape-rendering="crispEdges"/>
<g shape-rendering="crispEdges" fill="#000">
<rect x="5" y="36" width="1617" height="1" fill="#000"/>
<rect x="5" y="36" width="1" height="483" fill="#000"/>
<rect x="5" y="518" width="1617" height="1" fill="#000"/>
<rect x="1621" y="36" width="1" height="483" fill="#000"/>
<rect x="5" y="520" width="1617" height="1" fill="#000"/>
<rect x="5" y="520" width="1" height="61" fill="#000"/>
<rect x="5" y="580" width="1617" height="1" fill="#000"/>
<rect x="1621" y="520" width="1" height="61" fill="#000"/>
<rect x="5" y="582" width="1617" height="1" fill="#000"/>
<rect x="5" y="582" width="1" height="125" fill="#000"/>
<rect x="5" y="706" width="1617" height="1" fill="#000"/>
<rect x="1621" y="582" width="1" height="125" fill="#000"/>
<rect x="6" y="707" width="1" height="4" fill="#000"/>
<rect x="102" y="707" width="1" height="4" fill="#000"/>
<rect x="198" y="707" width="1" height="4" fill="#000"/>
<rect x="294" y="707" width="1" height="4" fill="#000"/>
<rect x="390" y="707" width="1" height="4" fill="#000"/>
<rect x="486" y="707" width="1" height="4" fill="#000"/>
<rect x="582" y="707" width="1" height="4" fill="#000"/>
<rect x="678" y="707" width="1" height="4" fill="#000"/>
<rect x="774" y="707" width="1" height="4" fill="#000"/>
<rect x="870" y="707" width="1" height="4" fill="#000"/>
<rect x="966" y="707" width="1" height="4" fill="#000"/>
<rect x="1062" y="707" width="1" height="4" fill="#000"/>
<rect x="1158" y="707" width="1" height="4" fill="#000"/>
<rect x="1254" y="707" width="1" height="4" fill="#000"/>
<rect x="1622" y="706" width="2" height="1" fill="#000"/>
<rect x="1622" y="58" width="2" height="1" fill="#000"/>
<rect x="1622" y="107" width="2" height="1" fill="#000"/>
<rect x="1622" y="156" width="2" height="1" fill="#000"/>
<rect x="1622" y="205" width="2" height="1" fill="#000"/>
<rect x="1622" y="255" width="2" height="1" fill="#000"/>
<rect x="1622" y="304" width="2" height="1" fill="#000"/>
<rect x="1622" y="353" width="2" height="1" fill="#000"/>
<rect x="1622" y="402" width="2" height="1" fill="#000"/>
<rect x="1622" y="451" width="2" height="1" fill="#000"/>
<rect x="1622" y="500" width="2" height="1" fill="#000"/>
<rect x="1622" y="548" width="2" height="1" fill="#000"/>
<rect x="1622" y="522" width="1" height="1" fill="#000"/>
<rect x="1622" y="579" width="1" height="1" fill="#000"/>
<rect x="1622" y="584" width="1" height="1" fill="#000"/>
</g></svg>
<svg class="abs" style="left:8px;top:42px" width="12" height="8"><path d="M1 7H10.5L5.7 1.7Z" fill="#000"/></svg>
<div class="t" style="left:24px;top:39.5px;letter-spacing:-0.55px">UKOil-,H4</div>
<div class="t" style="left:83px;top:39.5px;letter-spacing:0.22px">60.600 60.650 60.410 60.510</div>
<div class="t" style="left:10px;top:525px;letter-spacing:0.1px">MACD(12,26,9) 0.1278 0.1471</div>
<div class="t" style="left:10px;top:587px">RSI(14) 55.5650</div>
<div class="ax" style="top:51.6px">63.725</div>
<div class="ax" style="top:100.7px">62.250</div>
<div class="ax" style="top:149.8px">60.775</div>
<div class="ax" style="top:199.0px">59.300</div>
<div class="ax" style="top:248.1px">57.825</div>
<div class="ax" style="top:297.2px">56.350</div>
<div class="ax" style="top:346.4px">54.875</div>
<div class="ax" style="top:395.5px">53.400</div>
<div class="ax" style="top:444.6px">51.925</div>
<div class="ax" style="left:1626px;top:522.7px;letter-spacing:0.05px">1.4303</div>
<div class="ax" style="left:1626px;top:541.5px;letter-spacing:0.05px">0.00</div>
<div class="ax" style="left:1626px;top:565.7px;letter-spacing:0.05px">-1.7355</div>
<div class="ax" style="left:1625px;top:584.9px;letter-spacing:0.05px">100</div>
<div class="ax" style="left:1625px;top:613.6px;letter-spacing:0.05px">70</div>
<div class="ax" style="left:1625px;top:663.6px;letter-spacing:0.05px">30</div>
<div class="ax" style="left:1626px;top:692.8px;letter-spacing:0.05px">0</div>
<div class="lb" style="top:57px;background:#FF0000"><span>63.565</span></div>
<div class="lb" style="top:140px;background:#FF0000"><span>61.084</span></div>
<div class="lb" style="top:158px;background:#000"><span>60.510</span></div>
<div class="lb" style="top:223px;background:#00FF7F"><span>58.567</span></div>
<div class="lb" style="top:306px;background:#0000FF"><span>56.094</span></div>
<div class="lb" style="top:419px;background:#FF0000"><span>52.724</span></div>
<div class="lb" style="top:408px;background:#0000FF"><span>53.021</span></div>
<div class="lb" style="top:491px;background:#0000FF"><span>50.522</span></div>
<div class="t" style="left:5.2px;top:711.5px;letter-spacing:0.06px">6 Dec 2018</div>
<div class="t" style="left:101.2px;top:711.5px;letter-spacing:0.06px">10 Dec 16:00</div>
<div class="t" style="left:197.2px;top:711.5px;letter-spacing:0.06px">12 Dec 17:00</div>
<div class="t" style="left:293.2px;top:711.5px;letter-spacing:0.06px">14 Dec 17:00</div>
<div class="t" style="left:389.2px;top:711.5px;letter-spacing:0.06px">18 Dec 13:00</div>
<div class="t" style="left:485.2px;top:711.5px;letter-spacing:0.06px">20 Dec 13:00</div>
<div class="t" style="left:581.2px;top:711.5px;letter-spacing:0.06px">24 Dec 12:00</div>
<div class="t" style="left:677.2px;top:711.5px;letter-spacing:0.06px">27 Dec 17:00</div>
<div class="t" style="left:773.2px;top:711.5px;letter-spacing:0.06px">31 Dec 12:00</div>
<div class="t" style="left:869.2px;top:711.5px;letter-spacing:0.06px">3 Jan 17:00</div>
<div class="t" style="left:965.2px;top:711.5px;letter-spacing:0.06px">7 Jan 12:00</div>
<div class="t" style="left:1061.2px;top:711.5px;letter-spacing:0.06px">9 Jan 13:00</div>
<div class="t" style="left:1157.2px;top:711.5px;letter-spacing:0.06px">11 Jan 13:00</div>
<div class="t" style="left:1253.2px;top:711.5px;letter-spacing:0.06px">15 Jan 09:00</div>
<svg class="abs" style="left:0;top:0" width="1679" height="734" viewBox="0 0 1679 734"><text x="1191.3" y="386.1" font-family="'Liberation Sans','Noto Sans CJK SC',sans-serif" font-size="33" fill="#FF0000" textLength="165" lengthAdjust="spacingAndGlyphs">多空转折点</text><text x="1358.5" y="385.5" font-family="Liberation Sans, sans-serif" font-size="35.2" fill="#FF0000" textLength="62.5" lengthAdjust="spacingAndGlyphs">58.5</text></svg>
<div class="abs" style="left:7px;top:57px;width:287px;height:80px;background:#fff"></div>
<div class="abs" style="left:9px;top:59px;width:68px;height:28px;background:linear-gradient(#5a5afc,#3c3ce6);box-sizing:border-box;border:1px solid #0808a8;border-bottom:none"></div>
<div class="abs" style="left:224px;top:59px;width:68px;height:28px;background:linear-gradient(#5a5afc,#3c3ce6);box-sizing:border-box;border:1px solid #0808a8;border-bottom:none"></div>
<div class="abs" style="left:9px;top:86px;width:141px;height:49px;background:linear-gradient(#3838e4,#1a1ac6 50%,#0404aa 85%,#0000a6);box-sizing:border-box;border:1px solid #0808a8"></div>
<div class="abs" style="left:152px;top:86px;width:140px;height:49px;background:linear-gradient(#3838e4,#1a1ac6 50%,#0404aa 85%,#0000a6);box-sizing:border-box;border:1px solid #0808a8"></div>
<div class="abs" style="left:10px;top:86px;width:66px;height:1px;background:#3838e4"></div>
<div class="abs" style="left:225px;top:86px;width:66px;height:1px;background:#3838e4"></div>
<div class="abs" style="left:13px;top:85px;width:60px;height:1px;background:#0808a0"></div>
<div class="abs" style="left:228px;top:85px;width:60px;height:1px;background:#0808a0"></div>
<div class="abs" style="left:13px;top:86px;width:60px;height:1px;background:#7878ff"></div>
<div class="abs" style="left:228px;top:86px;width:60px;height:1px;background:#7878ff"></div>
<div class="abs" style="left:79px;top:59px;width:143px;height:25px;background:#fff;border:1px solid #aaa;box-sizing:border-box"></div>
<div class="abs" style="left:80px;top:60px;width:23px;height:23px;background:linear-gradient(#f4f4f4,#dcdcdc 45%,#d0d0d0 50%,#d0d0d0);border:1px solid #e4e4e4;box-sizing:border-box"></div>
<div class="abs" style="left:198px;top:60px;width:23px;height:23px;background:linear-gradient(#f4f4f4,#dcdcdc 45%,#d0d0d0 50%,#d0d0d0);border:1px solid #e4e4e4;box-sizing:border-box"></div>
<svg class="abs" style="left:80px;top:60px" width="141" height="23"><path d="M8 10H15L11.5 14Z" fill="#5060b8"/><path d="M126 13.500H133.500L129.700 9Z" fill="#5060b8"/></svg>
<div class="abs" style="left:120px;top:62px;width:74.6px;text-align:right;font-size:14.3px;line-height:20px;color:#000;letter-spacing:0.8px">1.00</div>
<div class="abs" style="left:9px;top:62px;width:68px;text-align:center;font-size:14.3px;line-height:20px;color:#fff">SELL</div>
<div class="abs" style="left:224px;top:62px;width:66px;text-align:center;font-size:14.3px;line-height:20px;color:#fff">BUY</div>

<div class="abs" style="left:48.5px;top:110.8px;font-size:14.4px;font-weight:bold;line-height:16px;color:#fff;letter-spacing:1.3px">60</div>
<div class="abs" style="left:71.6px;top:87.6px;font-size:40.5px;line-height:44px;color:#fff;transform:scaleX(0.945);transform-origin:0 0;letter-spacing:-0.5px">51</div>
<div class="abs" style="left:118.8px;top:93px;font-size:14.2px;font-weight:bold;line-height:16px;color:#fff;transform:scaleX(1.15);transform-origin:0 0">0</div>
<div class="abs" style="left:190.2px;top:110.8px;font-size:14.4px;font-weight:bold;line-height:16px;color:#fff;letter-spacing:1.3px">60</div>
<div class="abs" style="left:212.5px;top:87.6px;font-size:40.5px;line-height:44px;color:#fff;transform:scaleX(0.98);transform-origin:0 0;letter-spacing:-0.5px">62</div>
<div class="abs" style="left:261.7px;top:93px;font-size:14.2px;font-weight:bold;line-height:16px;color:#fff;transform:scaleX(1.15);transform-origin:0 0">0</div>
</body></html>
